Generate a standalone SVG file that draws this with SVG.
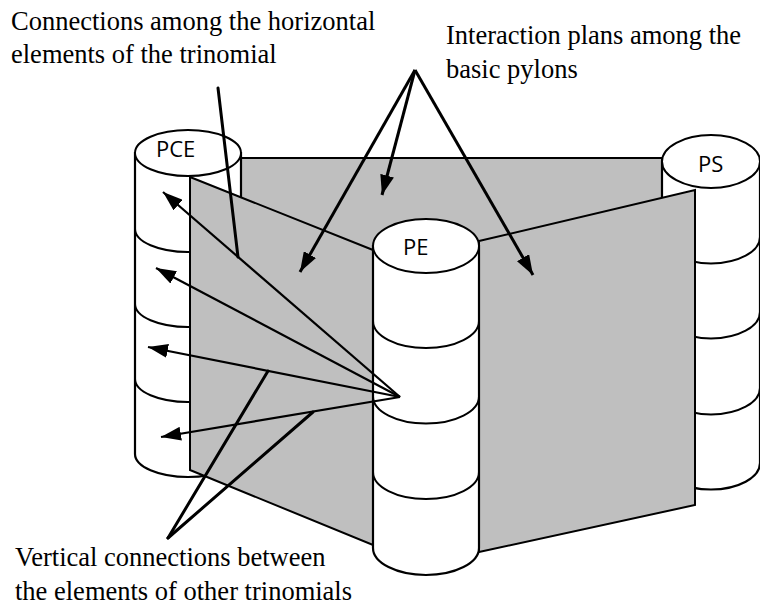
<svg xmlns="http://www.w3.org/2000/svg" width="760" height="605" viewBox="0 0 760 605">
  <style>
    .panel { fill: #bfbfbf; stroke: #000; stroke-width: 2; stroke-linejoin: miter; }
    .body { fill: #fff; stroke: #000; stroke-width: 2.2; }
    .ring { fill: none; stroke: #000; stroke-width: 2; }
    .cap { fill: #fff; stroke: #000; stroke-width: 2; }
    .tag { font-family: "Open Sans", "Liberation Sans", sans-serif; font-size: 22px; fill: #000; }
    .note { font-family: "Liberation Serif", "Times New Roman", serif; font-size: 26.5px; fill: #000; }
    .lead { fill: none; stroke: #000; stroke-width: 3; stroke-linecap: round; }
    .arr { fill: none; stroke: #000; stroke-width: 3; marker-end: url(#head); }
    .arr2 { fill: none; stroke: #000; stroke-width: 2.2; marker-end: url(#head); }
  </style>
  <defs>
    <marker id="head" viewBox="0 0 20 14" refX="20" refY="7" markerWidth="20" markerHeight="14" markerUnits="userSpaceOnUse" orient="auto">
      <path d="M0,0 L20,7 L0,14 Z" fill="#000"/>
    </marker>
  </defs>

  <!-- back interaction plane, between PCE and PS -->
  <g id="plane-back">
    <rect class="panel" x="240" y="158" width="422" height="130"/>
  </g>

  <!-- PCE pylon -->
  <g id="pylon-pce">
    <path class="body" d="M135,153 L135,454 A53,23 0 0 0 241,454 L241,153 Z"/>
    <path class="ring" d="M135,229 A53,23 0 0 0 241,229"/>
    <path class="ring" d="M135,304 A53,23 0 0 0 241,304"/>
    <path class="ring" d="M135,379 A53,23 0 0 0 241,379"/>
    <ellipse class="cap" cx="188" cy="153" rx="53" ry="23"/>
    <text class="tag" x="156" y="157">PCE</text>
  </g>

  <!-- PS pylon -->
  <g id="pylon-ps">
    <path class="body" d="M662,161.5 L662,463 A49,26.5 0 0 0 760,463 L760,161.5 Z"/>
    <path class="ring" d="M662,237 A49,26.5 0 0 0 760,237"/>
    <path class="ring" d="M662,312 A49,26.5 0 0 0 760,312"/>
    <path class="ring" d="M662,388 A49,26.5 0 0 0 760,388"/>
    <ellipse class="cap" cx="711" cy="161.5" rx="49" ry="26.5"/>
    <text class="tag" x="698" y="172">PS</text>
  </g>

  <!-- front interaction planes -->
  <g id="plane-left">
    <polygon class="panel" points="190,177 373,250 373,545 190,470"/>
  </g>
  <g id="plane-right">
    <polygon class="panel" points="479,241 695,190 695,505 479,552"/>
  </g>

  <!-- PE pylon -->
  <g id="pylon-pe">
    <path class="body" d="M373,246 L373,548 A53,27 0 0 0 479,548 L479,246 Z"/>
    <path class="ring" d="M373,321 A53,27 0 0 0 479,321"/>
    <path class="ring" d="M373,396.5 A53,27 0 0 0 479,396.5"/>
    <path class="ring" d="M373,472 A53,27 0 0 0 479,472"/>
    <ellipse class="cap" cx="426" cy="246" rx="53" ry="27"/>
    <text class="tag" x="403" y="255">PE</text>
  </g>

  <!-- connectors -->
  <g id="connectors">
    <!-- horizontal links from PE to PCE elements -->
    <line class="arr2" x1="400" y1="397" x2="163" y2="192"/>
    <line class="arr2" x1="400" y1="397" x2="156" y2="268"/>
    <line class="arr2" x1="400" y1="397" x2="148" y2="347"/>
    <line class="arr2" x1="400" y1="397" x2="161" y2="437"/>
    <!-- leader for horizontal connections -->
    <line class="lead" x1="218" y1="88" x2="238" y2="257"/>
    <!-- leaders for vertical connections -->
    <line class="lead" x1="168" y1="538" x2="268" y2="371"/>
    <line class="lead" x1="168" y1="538" x2="313" y2="412"/>
    <!-- interaction plan pointers -->
    <line class="arr" x1="415" y1="70" x2="300" y2="272"/>
    <line class="arr" x1="415" y1="70" x2="382" y2="195"/>
    <line class="arr" x1="415" y1="70" x2="533" y2="275"/>
  </g>

  <!-- captions -->
  <g id="captions">
    <text class="note" x="11" y="30">Connections among the horizontal</text>
    <text class="note" x="11" y="63">elements of the trinomial</text>
    <text class="note" x="446" y="44">Interaction plans among the</text>
    <text class="note" x="446" y="78">basic pylons</text>
    <text class="note" x="15" y="566">Vertical connections between</text>
    <text class="note" x="15" y="600">the elements of other trinomials</text>
  </g>
</svg>
